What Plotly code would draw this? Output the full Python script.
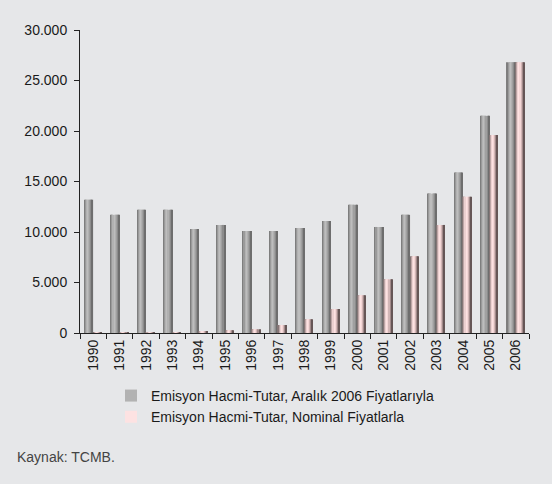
import plotly.graph_objects as go

years = [str(y) for y in range(1990, 2007)]

# Emisyon hacmi (milyon YTL)
real_2006 = [13200, 11700, 12200, 12200, 10300, 10700, 10100, 10100, 10400,
             11100, 12700, 10500, 11700, 13800, 15900, 21500, 26800]
nominal = [10, 20, 40, 70, 120, 270, 370, 790, 1360,
           2370, 3740, 5310, 7600, 10700, 13500, 19600, 26800]

name_real = "Emisyon Hacmi-Tutar, Aralık 2006 Fiyatlarıyla"
name_nom = "Emisyon Hacmi-Tutar, Nominal Fiyatlarla"

# cylinder-like shading, left edge to right edge
gray_shades = ["#7e7e7e", "#9a9a9a", "#b2b2b2", "#bdbdbd", "#b0b0b0",
               "#a0a0a0", "#8c8c8c", "#6e6e6e"]
pink_shades = ["#857676", "#bca6a6", "#ecd0d0", "#fde2e2", "#f4d6d6",
               "#d2b6b6", "#a28a8a", "#665656"]

fig = go.Figure()


def add_shaded(values, shades, start, width, name, legend_idx):
    k = len(shades)
    step = width / k
    for i, col in enumerate(shades):
        fig.add_trace(go.Bar(
            x=years, y=values, name=name,
            offset=start + i * step, width=step * 1.02,
            marker=dict(color=col, line=dict(width=0)),
            legendgroup=name, showlegend=(i == legend_idx),
        ))


add_shaded(real_2006, gray_shades, -0.335, 0.33, name_real, 2)
add_shaded(nominal, pink_shades, -0.005, 0.325, name_nom, 3)

font = "Liberation Sans, Arial, sans-serif"

fig.update_layout(
    width=552, height=484,
    paper_bgcolor="#e6e7e9", plot_bgcolor="#e6e7e9",
    margin=dict(l=80, r=23, t=30, b=151),
    barmode="overlay",
    separators=",.",
    font=dict(family=font, size=14, color="#1a1a1a"),
    showlegend=True,
    legend=dict(
        orientation="v", x=0.069, xanchor="left", y=-0.155, yanchor="top",
        bgcolor="rgba(0,0,0,0)", font=dict(size=14, color="#1a1a1a"),
        itemwidth=30, tracegroupgap=0,
    ),
    xaxis=dict(
        type="category", range=[-0.5, 16.5], automargin=False,
        showline=True, linecolor="#222", linewidth=1,
        ticks="outside", tickson="boundaries", ticklen=5, tickcolor="#222",
        tickangle=-90, showgrid=False, zeroline=False,
        tickfont=dict(size=14),
    ),
    yaxis=dict(
        range=[0, 30000], dtick=5000, tickformat=",d", automargin=False,
        showline=True, linecolor="#222", linewidth=1,
        ticks="outside", ticklen=5, tickcolor="#222",
        ticklabelstandoff=4,
        showgrid=False, zeroline=False, tickfont=dict(size=14),
    ),
    annotations=[dict(
        text="Kaynak: TCMB.", xref="paper", yref="paper",
        x=-0.145, y=-0.41, xanchor="left", yanchor="middle",
        showarrow=False, font=dict(size=14, color="#444"),
    )],
)

fig.write_html("out.html")
